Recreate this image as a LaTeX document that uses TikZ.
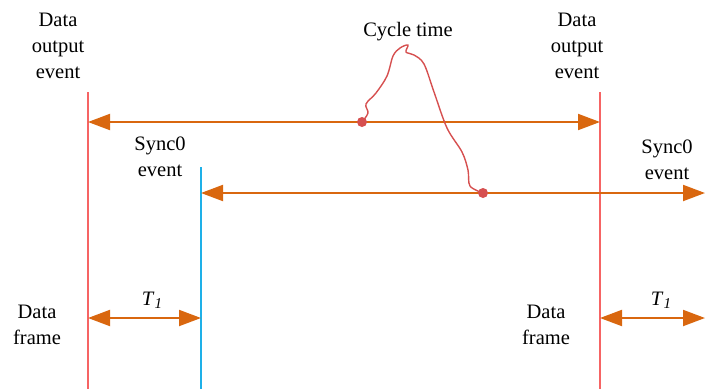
\documentclass[tikz,border=0pt]{standalone}
\usepackage{fontspec}
\newfontfamily\lserif{Liberation Serif}
\usetikzlibrary{arrows.meta}
\definecolor{arrorange}{RGB}{217,103,15}
\definecolor{evred}{RGB}{246,100,100}
\definecolor{evblue}{RGB}{30,176,232}
\definecolor{curvered}{RGB}{214,80,80}
\begin{document}
\begin{tikzpicture}[x=1pt,y=-1pt,
  lbl/.style={font=\lserif\fontsize{20.5}{26}\selectfont, align=center, inner sep=0pt},
  dur/.style={draw=arrorange, line width=2pt, {Triangle[length=22pt,width=16pt]}-{Triangle[length=22pt,width=16pt]}},
  evline/.style={line width=1.6pt},
  dotm/.style={circle, fill=curvered, inner sep=0pt, minimum size=10pt}]
\useasboundingbox (0,0) rectangle (705,389);
% event lines
\coordinate (r1t) at (88,92);   \coordinate (r1b) at (88,389);
\coordinate (r2t) at (600,92);  \coordinate (r2b) at (600,389);
\coordinate (bt) at (201,167);  \coordinate (bb) at (201,389);
\draw[evline, evred] (r1t) -- (r1b);
\draw[evline, evred] (r2t) -- (r2b);
\draw[evline, evblue] (bt) -- (bb);
% cycle arrows
\coordinate (a1l) at (88,122);  \coordinate (a1r) at (600,122);
\coordinate (a2l) at (201,193); \coordinate (a2r) at (705,193);
\draw[dur] (a1l) -- (a1r);
\draw[dur] (a2l) -- (a2r);
% T1 arrows
\coordinate (t1l) at (88,318);  \coordinate (t1r) at (201,318);
\coordinate (t2l) at (600,318); \coordinate (t2r) at (705,318);
\draw[dur] (t1l) -- (t1r);
\draw[dur] (t2l) -- (t2r);
% curve
\draw[curvered, line width=1.4pt] plot[smooth, tension=0.55] coordinates {(362,122) (368,113) (366,104) (376,93) (387,76) (393,56) (400,48) (408,45) (406,52) (414,55) (424,64) (434,92) (447,128) (462,152) (468,170) (470,186) (483,193)};
\node[dotm] (d1) at (362,122) {};
\node[dotm] (d2) at (483,193) {};
% labels
\node[lbl] (dout1) at (58,46) {Data\\output\\event};
\node[lbl] (dout2) at (577,46) {Data\\output\\event};
\node[lbl] (cyc) at (408,32) {Cycle time};
\node[lbl] (s1) at (160,157) {Sync0\\event};
\node[lbl] (s2) at (667,160) {Sync0\\event};
\node[lbl] (df1) at (37,325) {Data\\frame};
\node[lbl] (df2) at (546,325) {Data\\frame};
\node[lbl] (T1a) at (152,300) {\textit{T}\raisebox{-0.35ex}{\textit{\fontsize{15}{15}\selectfont 1}}};
\node[lbl] (T1b) at (661,300) {\textit{T}\raisebox{-0.35ex}{\textit{\fontsize{15}{15}\selectfont 1}}};
\end{tikzpicture}
\end{document}
